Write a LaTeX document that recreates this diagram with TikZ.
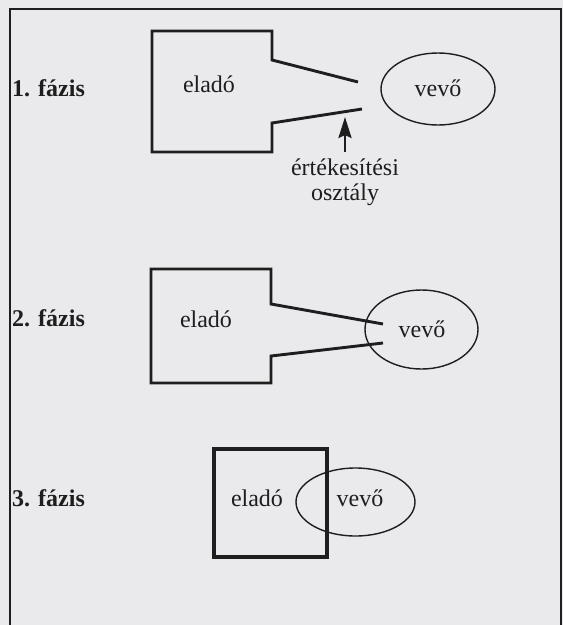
\documentclass[tikz,border=0pt]{standalone}
\usepackage{fontspec}
\setmainfont{Liberation Serif}
\usetikzlibrary{shapes.geometric,arrows.meta}

\definecolor{paper}{RGB}{234,234,237}
\definecolor{ink}{RGB}{30,30,30}

\tikzset{
  frame/.style={draw=ink, line width=1.8pt},
  seller/.style={draw=ink, line width=2.9pt, line join=miter},
  sellerbox/.style={draw=ink, line width=3.6pt},
  buyer/.style={ellipse, draw=ink, line width=1.4pt, inner sep=0pt},
  word/.style={font=\fontsize{24}{25}\selectfont, text=ink, anchor=base, inner sep=0pt},
  phase/.style={word, font=\fontsize{24}{25}\selectfont\bfseries, anchor=base west},
  pointer/.style={draw=ink, line width=2.8pt, -{Stealth[length=21pt,width=13pt,inset=3pt]}},
}

\begin{document}
\begin{tikzpicture}[x=1pt,y=-1pt]
  \useasboundingbox (0,0) rectangle (563,625);
  \fill[paper] (0,0) rectangle (563,625);

  % outer frame, open at the bottom
  \draw[frame] (10,625) -- (10,9) -- (561,9) -- (561,625);

  % ---------- phase 1 ----------
  \node[phase] (p1) at (12,96) {1. fázis};
  \coordinate (m1a) at (358,82);
  \coordinate (m1b) at (362,109);
  \draw[seller] (m1a) -- (272,60) -- (272,31) -- (152,31) -- (152,152)
                -- (272,152) -- (272,123) -- (m1b);
  \node[word] (s1) at (209,92) {eladó};
  \node[buyer, minimum width=114pt, minimum height=72pt] (b1) at (438,89) {};
  \node[word] (v1) at (438,96) {vevő};
  % two-line label: the node's base is the baseline of its last line
  \node[word, align=center] (dep) at (345,200) {értékesítési\\osztály};
  \coordinate (tip) at (345,117);
  \coordinate (tail) at (345,152);
  \draw[pointer] (tail) -- (tip);

  % ---------- phase 2 ----------
  \node[phase] (p2) at (12,326) {2. fázis};
  \coordinate (m2a) at (383,324);
  \coordinate (m2b) at (383,343);
  \draw[seller] (m2a) -- (271,304) -- (271,269) -- (151,269) -- (151,383)
                -- (271,383) -- (271,356) -- (m2b);
  \node[word] (s2) at (206,327) {eladó};
  \node[buyer, minimum width=113pt, minimum height=79pt] (b2) at (421.5,329.5) {};
  \node[word] (v2) at (422,337) {vevő};

  % ---------- phase 3 ----------
  \node[phase] (p3) at (12,506) {3. fázis};
  \node[buyer, minimum width=119pt, minimum height=68pt] (b3) at (355.5,502) {};
  \draw[sellerbox] (214,449) rectangle (327,557);
  \node[word] (s3) at (257,506) {eladó};
  \node[word] (v3) at (360,506) {vevő};
\end{tikzpicture}
\end{document}
